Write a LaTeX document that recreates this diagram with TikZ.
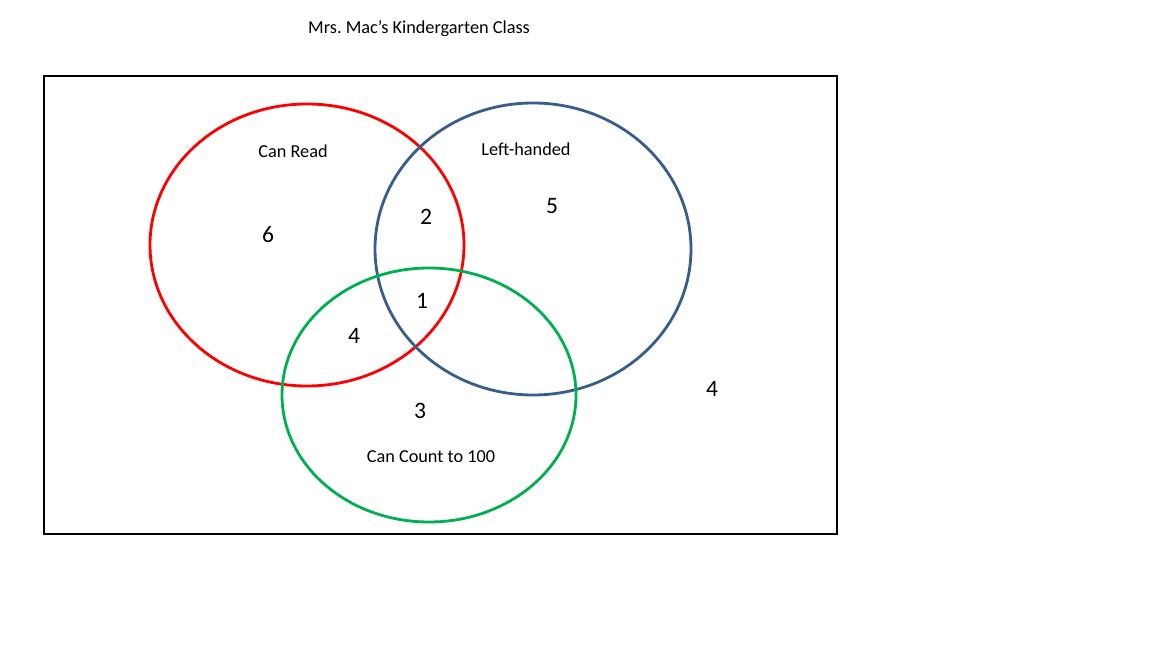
\documentclass[tikz,border=0pt]{standalone}
\usepackage{fontspec}
\setmainfont{Carlito}

\tikzset{
  setlabel/.style={font=\fontsize{10.4}{12}\selectfont},
  count/.style={font=\fontsize{13.4}{16}\selectfont},
}

\begin{document}
\frenchspacing
\begin{tikzpicture}[x=0.02cm,y=-0.02cm]
\useasboundingbox (0,0) rectangle (1152,648);
\node[setlabel] (title) at (419,29) {Mrs. Mac’s Kindergarten Class};
\draw[line width=1.4pt] (44,76) rectangle (837,534);
% the three sets
\draw[line width=1.6pt,red] (307,245) ellipse (157 and 141);
\draw[line width=1.6pt,color={rgb,255:red,56;green,93;blue,138}] (533,249) ellipse (158 and 146);
\draw[line width=1.6pt,color={rgb,255:red,0;green,176;blue,80}] (429,395) ellipse (147 and 127);
\node[setlabel] (read) at (293,151) {Can Read};
\node[setlabel] (left) at (526,149) {Left-handed};
\node[setlabel] (count100) at (431,457) {Can Count to 100};
\node[count] (nR) at (268,235) {6};
\node[count] (nRL) at (426,217) {2};
\node[count] (nL) at (552,206) {5};
\node[count] (nRLC) at (422,301) {1};
\node[count] (nRC) at (354,336) {4};
\node[count] (nC) at (420,411) {3};
\node[count] (nOut) at (712,389) {4};
\end{tikzpicture}
\end{document}
